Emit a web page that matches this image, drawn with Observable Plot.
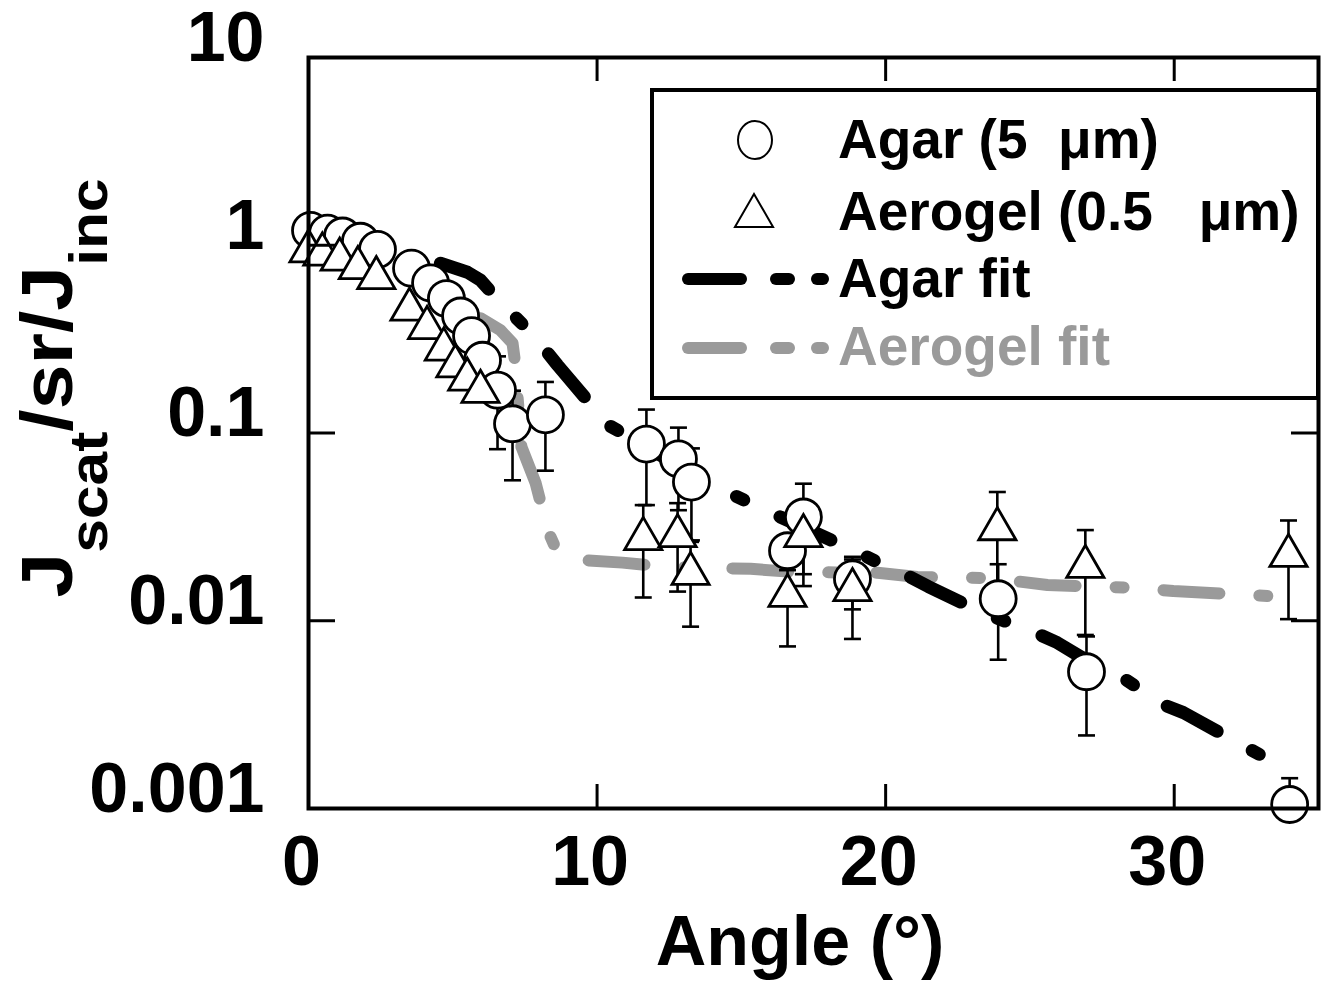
<!DOCTYPE html>
<html><head><meta charset="utf-8">
<script src="https://cdn.jsdelivr.net/npm/d3@7"></script>
<script src="https://cdn.jsdelivr.net/npm/@observablehq/plot@0.6"></script>
<style>
body{margin:0;background:#fff;}
#wrap{position:relative;width:1326px;height:985px;}
svg{font-family:"Liberation Sans",Arial,sans-serif;font-weight:bold;}
</style></head><body><div id="wrap"></div>
<script>
// Agar (5 µm) measured points
const agarAngle = [0.07,0.66,1.18,1.80,2.39,3.57,4.23,4.78,5.27,5.65,6.03,6.55,7.07,8.21,11.71,12.82,13.27,16.60,17.15,18.85,23.90,26.96,34.0];
const agarValue = [1.20,1.16,1.12,1.05,0.95,0.755,0.63,0.52,0.42,0.33,0.244,0.169,0.112,0.125,0.0873,0.0728,0.0548,0.0236,0.0357,0.0167,0.0131,0.00535,0.00105];
const agarErr   = [0,0,0,0,0,0,0,0,0,0,0,0.087,0.056,0.062,0.046,0.034,0.028,0.005,0.018,0.0052,0.0069,0.0029,0.0004];
// Aerogel (0.5 µm) measured points
const aeroAngle = [0.0,0.48,1.08,1.71,2.35,3.50,4.11,4.69,5.09,5.50,5.96,11.60,12.79,13.24,16.60,17.15,18.85,23.87,26.92,33.96];
const aeroValue = [0.93,0.895,0.84,0.757,0.67,0.455,0.363,0.279,0.227,0.193,0.166,0.0273,0.0283,0.0178,0.0136,0.0283,0.0146,0.0308,0.0194,0.0222];
const aeroErr   = [0,0,0,0,0,0,0,0,0,0,0,0.014,0.014,0.0085,0.0063,0.013,0.0066,0.0177,0.011,0.012];
// Fits
const agarFitAngle = [4.57,5.51,5.96,6.58,7.45,7.93,8.63,10.40,11.71,13.93,14.86,15.66,16.35,17.50,19.23,20.10,20.51,21.48,23.39,25.19,25.95,26.75,28.21,29.63,30.32,32.64,34.13];
const agarFitValue = [0.802,0.718,0.652,0.510,0.375,0.313,0.230,0.110,0.0843,0.0529,0.0457,0.0399,0.0357,0.0297,0.0224,0.0191,0.0182,0.0152,0.0110,0.00863,0.00764,0.00644,0.00498,0.00357,0.00324,0.00206,0.00155];
const aeroFitAngle = [5.96,6.65,7.07,7.17,7.24,7.38,7.87,8.11,8.28,8.56,9.42,10.88,12.37,15.32,16.77,19.72,21.10,23.28,24.15,25.61,28.59,29.97,33.09,34.44];
const aeroFitValue = [0.409,0.353,0.301,0.230,0.159,0.0843,0.0542,0.0389,0.0305,0.0244,0.0211,0.0204,0.0194,0.0189,0.0182,0.0180,0.0171,0.0169,0.0165,0.0155,0.0150,0.0144,0.0136,0.0132];
// Ticks & labels
const xTicks = [0,10,20,30];
const yTicks = [0.001,0.01,0.1,1,10];
const legendLabels = ["Agar (5  \u03bcm)","Aerogel (0.5   \u03bcm)","Agar fit","Aerogel fit"];
const xTitle = "Angle (\u00b0)";

const agar = agarAngle.map((x,i)=>({x, y: agarValue[i], e: agarErr[i]}));
const aero = aeroAngle.map((x,i)=>({x, y: aeroValue[i], e: aeroErr[i]}));
const agarFit = agarFitAngle.map((x,i)=>({x, y: agarFitValue[i]}));
const aeroFit = aeroFitAngle.map((x,i)=>({x, y: aeroFitValue[i]}));
const errs = [...agar, ...aero].filter(d => d.e > 0);

const W=1326, H=985, mL=308, mR=8, mT=57, mB=177;
const innerW = W-mL-mR, innerH = H-mT-mB;
const capSymbol = {draw(ctx, size){ const w = Math.sqrt(size/Math.PI); ctx.moveTo(-w,0); ctx.lineTo(w,0); }};
const FONT = "'Liberation Sans', Arial, sans-serif";
const dash = "56,40,8,40";

const plot = Plot.plot({
  width: W, height: H, marginLeft: mL, marginRight: mR, marginTop: mT, marginBottom: mB,
  x: {type: "linear", domain: [0, 35], axis: null},
  y: {type: "log", domain: [0.001, 10], axis: null},
  style: {fontFamily: FONT, fontWeight: "bold", background: "white", overflow: "visible"},
  marks: [
    Plot.line(aeroFit, {x: "x", y: "y", stroke: "#9a9a9a", strokeWidth: 12, strokeLinecap: "round", strokeLinejoin: "round", strokeDasharray: dash}),
    Plot.line(agarFit, {x: "x", y: "y", stroke: "#000", strokeWidth: 13, strokeLinecap: "round", strokeLinejoin: "round", strokeDasharray: dash}),
    Plot.ruleX(errs, {x: "x", y1: d => d.y - d.e, y2: d => d.y + d.e, stroke: "#000", strokeWidth: 2.6, clip: true}),
    Plot.dot(errs, {x: "x", y: d => d.y + d.e, symbol: capSymbol, r: 8.5, stroke: "#000", strokeWidth: 2.6, clip: true}),
    Plot.dot(errs, {x: "x", y: d => d.y - d.e, symbol: capSymbol, r: 8.5, stroke: "#000", strokeWidth: 2.6, clip: true}),
    Plot.dot(agar, {x: "x", y: "y", r: 18, fill: "white", stroke: "#000", strokeWidth: 2.8}),
    Plot.dot(aero, {x: "x", y: "y", symbol: "triangle", r: 13.8, fill: "white", stroke: "#000", strokeWidth: 2.8}),
    Plot.tickX(xTicks.filter(d => d > 0), {x: d => d, insetTop: innerH - 24, stroke: "#000", strokeWidth: 3}),
    Plot.tickX(xTicks.filter(d => d > 0), {x: d => d, insetBottom: innerH - 24, stroke: "#000", strokeWidth: 3}),
    Plot.tickY(yTicks, {y: d => d, insetRight: innerW - 27, stroke: "#000", strokeWidth: 3}),
    Plot.tickY(yTicks, {y: d => d, insetLeft: innerW - 27, stroke: "#000", strokeWidth: 3}),
    Plot.frame({stroke: "#000", strokeWidth: 4}),
    Plot.text(xTicks, {x: d => d, frameAnchor: "bottom", lineAnchor: "top", dy: 27, dx: -7, fontSize: 70, fontWeight: "bold", fill: "#000", text: d => String(d)}),
    Plot.text(yTicks, {y: d => d, frameAnchor: "left", textAnchor: "end", dx: -44, dy: -19, fontSize: 70, fontWeight: "bold", fill: "#000", text: d => String(d)})
  ]
});
document.getElementById("wrap").appendChild(plot);

const svg = d3.select(plot);
// x-axis title
svg.append("text").attr("x", 800).attr("y", 965).attr("text-anchor", "middle")
  .attr("font-size", 70).attr("font-weight", "bold").attr("fill", "#000").text(xTitle);
// y-axis title with subscripts
const yt = svg.append("text").attr("transform", "translate(72,388) rotate(-90) scale(1.12,1)")
  .attr("text-anchor", "middle").attr("font-size", 72).attr("font-weight", "bold").attr("fill", "#000");
yt.append("tspan").text("J");
yt.append("tspan").attr("font-size", 54).attr("dy", 35).text("scat");
yt.append("tspan").attr("dy", -35).text("/sr/J");
yt.append("tspan").attr("font-size", 54).attr("dy", 35).text("inc");

// legend
const lg = svg.append("g").attr("text-anchor", "start");
lg.append("rect").attr("x", 652).attr("y", 90).attr("width", 666).attr("height", 308)
  .attr("fill", "white").attr("stroke", "#000").attr("stroke-width", 4);
const rowY = [140, 216, 279, 348];
const baseY = [158, 230, 297, 365];
lg.append("ellipse").attr("cx", 755).attr("cy", rowY[0]).attr("rx", 17).attr("ry", 19)
  .attr("fill", "white").attr("stroke", "#000").attr("stroke-width", 2);
lg.append("path").attr("transform", `translate(754,${rowY[1]})`)
  .attr("d", d3.symbol(d3.symbolTriangle, 629)()).attr("fill", "white").attr("stroke", "#000").attr("stroke-width", 2);
[["#000", rowY[2]], ["#9a9a9a", rowY[3]]].forEach(([c, y]) => {
  [[688, 741], [776, 789], [817, 823]].forEach(([a, b]) => {
    lg.append("line").attr("x1", a).attr("x2", b).attr("y1", y).attr("y2", y)
      .attr("stroke", c).attr("stroke-width", 12).attr("stroke-linecap", "round");
  });
});
legendLabels.forEach((t, i) => {
  lg.append("text").attr("x", 838).attr("y", baseY[i]).attr("text-anchor", "start").attr("font-size", 55).attr("font-weight", "bold")
    .attr("fill", i === 3 ? "#9a9a9a" : "#000").attr("xml:space", "preserve").style("white-space", "pre").text(t);
});
</script></body></html>
